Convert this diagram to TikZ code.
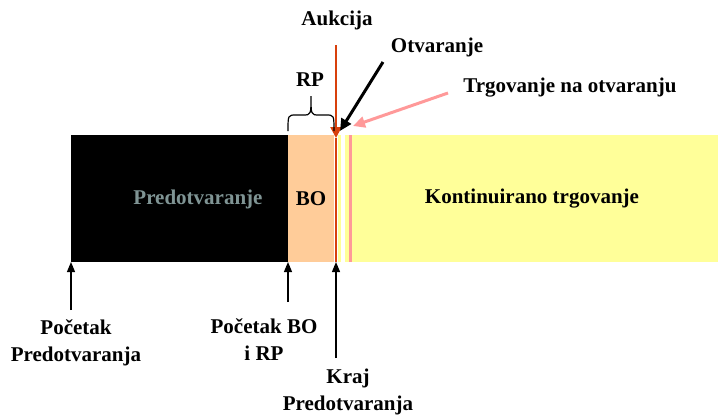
\documentclass[tikz,border=0pt]{standalone}
\usepackage{fontspec}
\setmainfont{Liberation Serif}
\usetikzlibrary{arrows.meta}
\definecolor{peach}{HTML}{FFCC99}
\definecolor{lyellow}{HTML}{FFFF99}
\definecolor{pinkc}{HTML}{FF9999}
\definecolor{redc}{HTML}{D8400C}
\definecolor{grayt}{HTML}{7F9494}
\begin{document}
\begin{tikzpicture}[x=1pt,y=-1pt,
  lbl/.style={font=\fontsize{21}{26}\selectfont\bfseries, align=center, inner sep=0pt},
  seg/.style={draw=none, inner sep=0pt, outer sep=0pt, anchor=north west},
  blk/.style={line width=1.2pt, black, -{Triangle[width=8pt,length=10pt]}}]
\useasboundingbox (0,0) rectangle (718,418);
% bar segments
\node[seg, fill=black, minimum width=217pt, minimum height=127pt] (pre) at (71,135) {};
\node[seg, fill=peach, minimum width=46pt, minimum height=127pt] (bo) at (288,135) {};
\node[seg, fill=lyellow, minimum width=380pt, minimum height=127pt] (kont) at (338,135) {};
\node[seg, fill=white, minimum width=4pt, minimum height=127pt] (gap) at (341,135) {};
\node[seg, fill=pinkc, minimum width=3pt, minimum height=127pt] (pk) at (349,135) {};
% texts in bar
\node[lbl, text=grayt] (tpre) at (198,199) {Predotvaranje};
\node[lbl] (tbo) at (311,199) {BO};
\node[lbl] (tkont) at (532,199) {Kontinuirano trgovanje};
% red auction line
\coordinate (rtop) at (336,45);
\coordinate (rmid) at (336,138);
\coordinate (rbot) at (336,262);
\draw[redc, line width=2.5pt, -{Triangle[width=11pt,length=11pt]}] (rtop) -- (rmid);
\draw[redc, line width=2.5pt] (rmid) -- (rbot);
% top labels
\node[lbl] (auk) at (337,20) {Aukcija};
\node[lbl] (rp) at (310,80) {RP};
\node[lbl] (otv) at (437,47) {Otvaranje};
\node[lbl] (trg) at (570,88) {Trgovanje na otvaranju};
% brace
\coordinate (bl) at (288,131);
\coordinate (br) at (334,131);
\coordinate (btip) at (311,96);
\draw[line width=1.2pt] (bl) .. controls (288,115) .. (296,115) -- (303,115)
  .. controls (311,115) .. (btip) .. controls (311,115) .. (319,115) -- (326,115)
  .. controls (334,115) .. (br);
% pointer arrows
\coordinate (oa) at (383,62);
\coordinate (ob) at (340,131);
\draw[line width=3pt, -{Triangle[width=11pt,length=12pt]}] (oa) -- (ob);
\coordinate (pa) at (448,93);
\coordinate (pb) at (353,126);
\draw[pinkc, line width=3pt, -{Triangle[width=11pt,length=12pt]}] (pa) -- (pb);
% bottom arrows
\coordinate (a1) at (71,310);
\coordinate (b1) at (71,262);
\coordinate (a2) at (288,302);
\coordinate (b2) at (288,262);
\coordinate (a3) at (336,358);
\coordinate (b3) at (336,262);
\draw[blk] (a1) -- (b1);
\draw[blk] (a2) -- (b2);
\draw[blk] (a3) -- (b3);
% bottom labels
\node[lbl] (l1) at (76,343) {Početak\\[1pt]Predotvaranja};
\node[lbl] (l2) at (264,340) {Početak BO\\[1pt]i RP};
\node[lbl] (l3) at (348,392) {Kraj\\[1pt]Predotvaranja};
\end{tikzpicture}
\end{document}
